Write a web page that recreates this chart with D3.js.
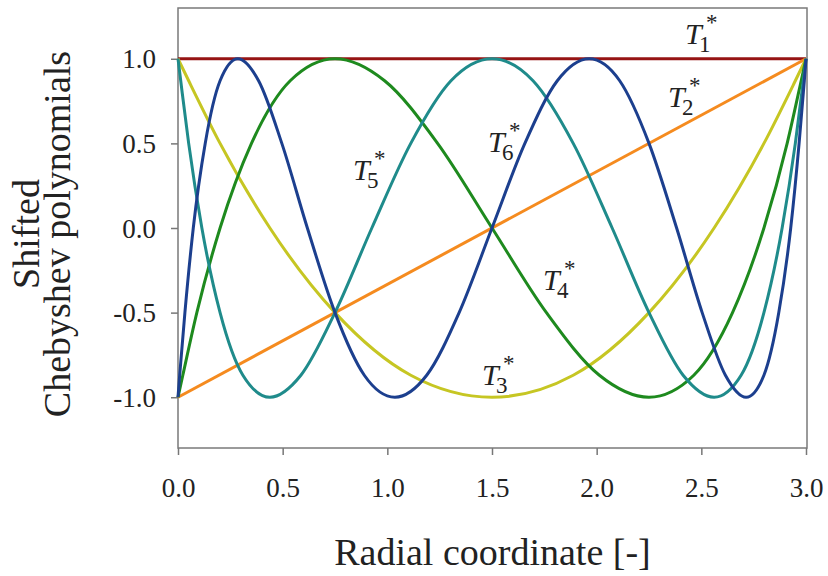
<!DOCTYPE html>
<html>
<head>
<meta charset="utf-8">
<script src="https://cdn.jsdelivr.net/npm/d3@7"></script>
<style>
  body { margin: 0; background: #fff; }
  svg { display: block; }
  svg text { font-family: "Times New Roman", "Liberation Serif", "DejaVu Serif", serif; }
  .tick text { font-size: 27px; fill: #222; }
  .tick line { stroke: #777; stroke-width: 1.5; }
  .title { font-size: 38px; fill: #222; }
  .lbl { fill: #222; }
</style>
</head>
<body>
<div id="chart"></div>
<script>
// shifted Chebyshev polynomials
const names = ["T1", "T2", "T3", "T4", "T5", "T6"];
const colors = ["#961414", "#f58b1f", "#c6c623", "#1e8a1e", "#1f8b8b", "#1c3f8e"];

const t1x = [0, 3];
const t1y = [1, 1];

const t2x = [0, 3];
const t2y = [-1, 1];

const t3x = [0, 0.051, 0.201, 0.439, 0.75, 1.112, 1.5, 1.888, 2.25, 2.561, 2.799, 2.949, 3];
const t3y = [1, 0.87, 0.5, 0, -0.5, -0.87, -1, -0.87, -0.5, 0, 0.5, 0.87, 1];

const t4x = [0, 0.023, 0.09, 0.201, 0.351, 0.536, 0.75, 0.987, 1.24, 1.5, 1.76, 2.013,
  2.25, 2.464, 2.649, 2.799, 2.91, 2.977, 3];
const t4y = [-1, -0.87, -0.5, 0, 0.5, 0.87, 1, 0.87, 0.5, 0, -0.5, -0.87,
  -1, -0.87, -0.5, 0, 0.5, 0.87, 1];

const t5x = [0, 0.013, 0.051, 0.114, 0.201, 0.31, 0.439, 0.587, 0.75, 0.926, 1.112, 1.304,
  1.5, 1.696, 1.888, 2.074, 2.25, 2.413, 2.561, 2.69, 2.799, 2.886, 2.949, 2.987, 3];
const t5y = [1, 0.87, 0.5, 0, -0.5, -0.87, -1, -0.87, -0.5, 0, 0.5, 0.87,
  1, 0.87, 0.5, 0, -0.5, -0.87, -1, -0.87, -0.5, 0, 0.5, 0.87, 1];

const t6x = [0, 0.008, 0.033, 0.073, 0.13, 0.201, 0.286, 0.385, 0.496, 0.618, 0.75, 0.89,
  1.036, 1.188, 1.343, 1.5, 1.657, 1.812, 1.964, 2.11, 2.25, 2.382, 2.504, 2.615,
  2.714, 2.799, 2.87, 2.927, 2.967, 2.992, 3];
const t6y = [-1, -0.87, -0.5, 0, 0.5, 0.87, 1, 0.87, 0.5, 0, -0.5, -0.87,
  -1, -0.87, -0.5, 0, 0.5, 0.87, 1, 0.87, 0.5, 0, -0.5, -0.87,
  -1, -0.87, -0.5, 0, 0.5, 0.87, 1];

const xsAll = [t1x, t2x, t3x, t4x, t5x, t6x];
const ysAll = [t1y, t2y, t3y, t4y, t5y, t6y];

// curve labels (index, position in data units)
const labelIdx = ["1", "2", "3", "4", "5", "6"];
const labelX = [2.422, 2.341, 1.452, 1.744, 0.836, 1.481];
const labelY = [1.087, 0.715, -0.928, -0.366, 0.284, 0.449];

const xTicks = [0, 0.5, 1, 1.5, 2, 2.5, 3];
const yTicks = [-1, -0.5, 0, 0.5, 1];

var width = 828;
var height = 576;
// plot box (don't use "top", it clashes with window.top)
var mLeft = 178, mRight = 807, mTop = 8, mBottom = 448;

var svg = d3.select("#chart").append("svg")
  .attr("width", width)
  .attr("height", height);

var x = d3.scaleLinear().domain([0, 3]).range([mLeft, 806]);
var y = d3.scaleLinear().domain([-1.3, 1.3]).range([mBottom, mTop]);

// axes
var xAxis = svg.append("g")
  .attr("transform", "translate(0," + mBottom + ")")
  .call(d3.axisBottom(x).tickValues(xTicks).tickSize(7).tickPadding(23)
    .tickFormat(d3.format(".1f")));
xAxis.select(".domain").remove();
xAxis.attr("font-family", null);

var yAxis = svg.append("g")
  .attr("transform", "translate(" + mLeft + ",0)")
  .call(d3.axisLeft(y).tickValues(yTicks).tickSize(7).tickPadding(15)
    .tickFormat(d3.format(".1f")));
yAxis.select(".domain").remove();
yAxis.attr("font-family", null);
yAxis.selectAll(".tick text").attr("dy", "0.34em").text(d => d3.format(".1f")(d).replace("−", "-"));

// frame
svg.append("rect")
  .attr("x", mLeft)
  .attr("y", mTop)
  .attr("width", mRight - mLeft)
  .attr("height", mBottom - mTop)
  .attr("fill", "none")
  .attr("stroke", "#7a7a7a")
  .attr("stroke-width", 1.5);

// curves
var line = d3.line()
  .x(d => x(d[0]))
  .y(d => y(d[1]))
  .curve(d3.curveMonotoneX);

for (var i = 0; i < names.length; i++) {
  var pts = xsAll[i].map((v, j) => [v, ysAll[i][j]]);
  svg.append("path")
    .datum(pts)
    .attr("class", "curve " + names[i])
    .attr("fill", "none")
    .attr("stroke", colors[i])
    .attr("stroke-width", 3)
    .attr("d", line);
}

// labels T_n^* as one text each
for (var i = 0; i < labelIdx.length; i++) {
  var px = x(labelX[i]), py = y(labelY[i]);
  var t = svg.append("text").attr("class", "lbl")
    .attr("x", px).attr("y", py)
    .style("font-size", "30px");
  t.append("tspan").style("font-style", "italic").text("T");
  t.append("tspan")
    .attr("x", px + 14).attr("dy", 8)
    .style("font-size", "23px")
    .text(labelIdx[i]);
  t.append("tspan")
    .attr("x", px + 21).attr("dy", -22)
    .style("font-size", "23px")
    .text("*");
}

// axis titles
svg.append("text").attr("class", "title")
  .attr("x", (mLeft + mRight) / 2)
  .attr("y", 565)
  .attr("text-anchor", "middle")
  .text("Radial coordinate [-]");

svg.append("text").attr("class", "title")
  .attr("transform", "translate(39,234) rotate(-90)")
  .attr("text-anchor", "middle")
  .text("Shifted");

svg.append("text").attr("class", "title")
  .attr("transform", "translate(70,234) rotate(-90)")
  .attr("text-anchor", "middle")
  .text("Chebyshev polynomials");
</script>
</body>
</html>
